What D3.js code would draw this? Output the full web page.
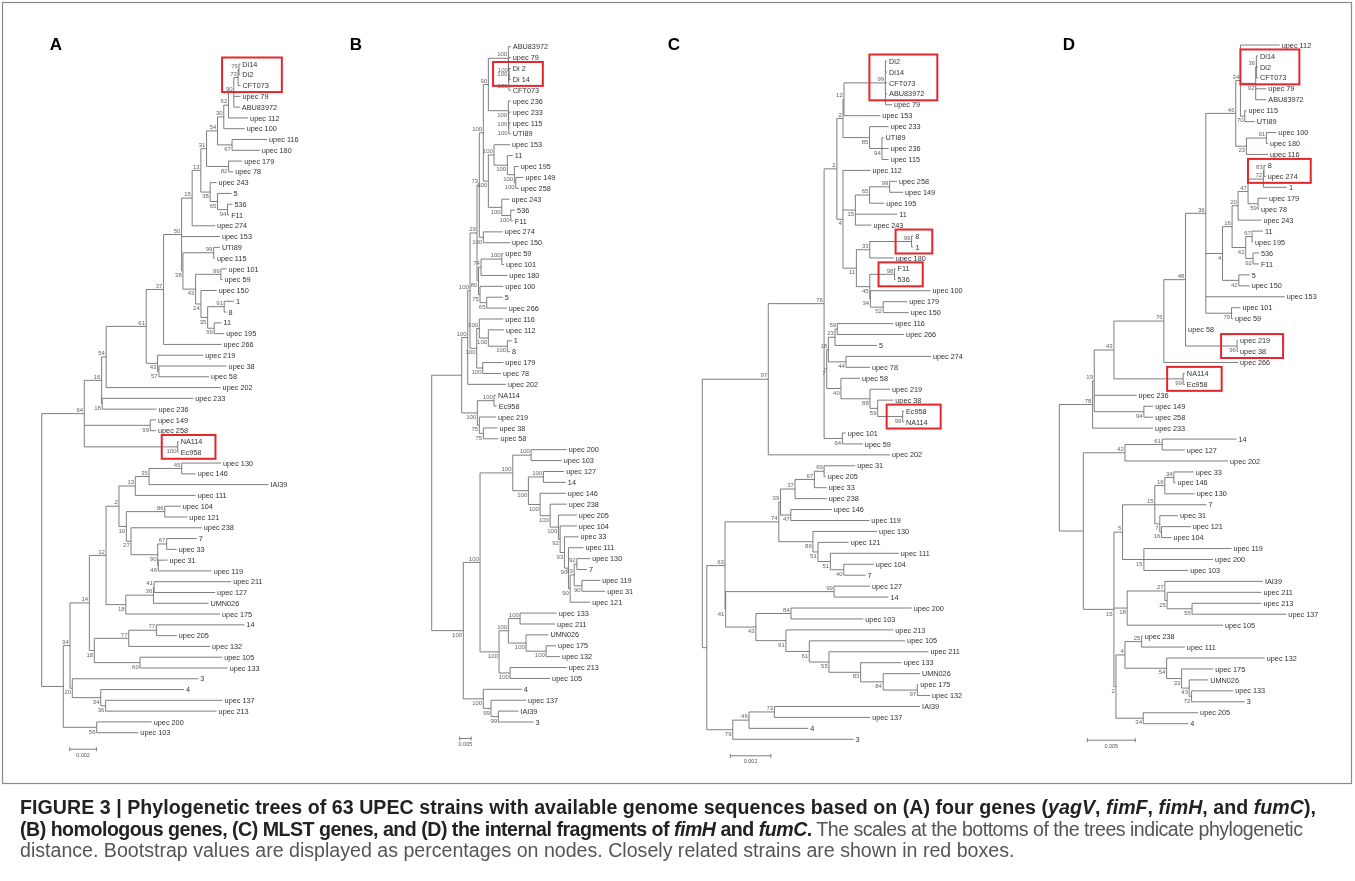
<!DOCTYPE html>
<html>
<head>
<meta charset="utf-8">
<script src="https://cdn.jsdelivr.net/npm/d3@7"></script>
<style>
  body { margin: 0; background: #fff; }
  svg text { font-family: Arial, "Liberation Sans", Helvetica, sans-serif; }
</style>
</head>
<body>
<div id="fig"></div>
<script>
// ---- data -------------------------------------------------------------
// Newick trees; branch lengths are in units of 1e-4
// substitutions/site, node labels are the bootstrap values.
var lenUnit = 1e-4;

var treeA = `
(
 (
  (
   (
    (
     (
      (
       (
        (
         (
          (
           (
            (
             (
              ((Di14:1.0,Di2:1.0)76:0.7,CFT073:1.8)73:3.2,
              upec_79:5.0,
              ABU83972:4.5
             )90:4.0,
             upec_112:14.7
            )62:3.5,
            upec_100:15.7
           )30:4.7,
           (upec_116:26.2,upec_180:20.7)67:10.9
          )54:8.2,
          (upec_179:10.2,upec_78:3.4)82:16.5
         )31:4.3,
         (upec_243:4.8,(5:10.5,(536:3.7,F11:1.2)94:7.5)65:5.5)38:7.0
        )13:6.5,
        upec_274:17.2
       )15:7.9,
       upec_153:28.7,
       ((UTI89:4.7,upec_115:1.0)99:23.0,((upec_101:4.3,upec_59:1.3)99:18.9,(upec_150:11.8,((1:7.3,8:1.8)91:12.4,(11:5.5,upec_195:7.5)59:4.9)35:5.0)24:4.0)43:9.5)38:1.0
      )50:13.5,
      upec_266:43.4
     )37:13.0,
     (upec_219:34.2,(upec_38:50.7,upec_58:37.5)57:1.0)43:8.5
    )61:30.0,
    upec_202:85.7
   )54:3.4,
   (upec_233:68.2,upec_236:40.7)18:0.4
  )16:13.0,
  (upec_149:4.3,upec_258:4.3)99:49.4,
  (NA114:0.7,Ec958:0.7)100:70.0
 )64:31.9,
 (
  (
   (
    (
     (
      (((upec_130:29.4,upec_146:10.5)45:24.5,IAI39:89.4)35:10.3,upec_111:45.2)13:12.2,
      ((upec_104:12.0,upec_121:16.9)86:28.8,(upec_238:53.0,((7:22.5,upec_33:7.5)67:6.7,(upec_31:7.0,upec_119:40.0)46:0.4)90:20.0)27:3.5)10:5.5
     )2:9.7,
     (((upec_211:57.7,upec_127:45.7)41:0.5,UMN026:41.2)36:20.7,upec_175:70.6)18:14.8
    )12:12.5,
    (((14:65.9,upec_205:15.3)77:20.7,upec_132:60.9)77:25.8,(upec_105:61.6,upec_133:65.7)60:34.2)18:3.7
   )14:14.5,
   (3:94.4,(4:62.4,(upec_137:87.6,upec_213:83.1)36:3.7)34:21.3)20:1.7
  )34:5.0,
  (upec_200:41.2,upec_103:31.2)56:25.0
 ):16.2
);`;

var treeB = `
(
 (
  (
   (
    (
     (
      (
       (
        (ABU83972:10.5,(upec_79:9.7,((Di_2:7.5,Di_14:7.5)100:1.3,CFT073:8.8)100:0.9)100:0.9)100:87.8,
        (upec_236:10.5,(upec_233:9.7,(upec_115:8.8,UTI89:8.8)100:0.9)100:0.9)100:87.8
       )90:22.0,
       (
        (upec_153:70.2,(11:23.7,(upec_195:19.3,(upec_149:33.4,upec_258:13.2)100:6.1)100:30.7)100:58.4)100:25.0,
        (upec_243:33.4,(536:18.9,F11:8.8)100:39.5)100:58.8
       )100:22.0
      )100:17.6,
      (upec_274:85.2,upec_150:117.2)100:17.6
     )73:10.1,
     (
      ((upec_59:7.0,upec_101:10.1)100:90.9,upec_180:115.5)74:11.0,
      (upec_100:102.3,(5:70.2,upec_266:87.8)65:29.4)75:6.6
     )80:6.6
    )29:30.7,
    (
     (upec_116:105.4,(upec_112:68.9,(1:19.3,8:11.9)100:83.4)100:39.5)100:11.4,
     (upec_179:90.4,upec_78:80.3)100:26.3
    )100:29.4
   )100:10.1,
   upec_202:168.1
  )100:26.3,
  (
   (NA114:8.8,Ec958:11.9)100:73.3,
   (upec_219:73.3,(upec_38:61.5,upec_58:65.9)75:17.6)75:8.8
  )100:68.5
 ):131.7,
 (
  (
   (
    (upec_200:156.7,upec_103:134.8)100:80.3,
    (
     (upec_127:90.9,14:98.3)100:65.9,
     (upec_146:112.8,(upec_238:73.3,(upec_205:80.8,(upec_104:73.3,(upec_33:61.5,(upec_111:65.9,(((upec_130:58.4,7:43.9)92:11.9,(upec_119:80.3,upec_31:102.3)90:33.8)93:17.6,upec_121:87.8)90:7.5)90:17.6)93:18.9)92:7.5)100:36.4)100:43.9)100:51.4
    )100:68.5
   )100:143.6,
   (
    ((upec_133:161.1,upec_211:153.7)100:51.4,(UMN026:97.9,(upec_175:43.9,upec_132:61.5)100:87.8)100:77.7)100:40.8,
    (upec_213:248.9,upec_105:175.6)100:48.3
   )100:83.4
  )100:73.3,
  (4:168.6,(upec_137:153.7,(IAI39:87.8,3:153.7)99:32.0)99:33.8)100:87.8
 )100:138.7
);`;

var treeC = `
(
 (
  (
   (
    (
     ((Di2:0.8,Di14:0.8,CFT073:0.8,ABU83972:0.8,upec_79:3.3)99:20.4,upec_153:17.9)12:0.5,
     (upec_233:9.4,(UTI89:0.8,upec_236:3.3,upec_115:3.3)94:6.1)85:13.1
    )2:3.0,
    (
     upec_112:13.5,
     (((upec_258:3.6,upec_149:6.6)99:9.9,upec_195:7.2)65:7.0,11:20.6,upec_243:7.9)15:6.1,
     (((8:0.8,1:0.8)99:20.6,upec_180:11.8)33:6.6,((F11:0.5,536:0.5)98:12.2,(upec_100:29.6,(upec_179:11.8,upec_150:12.6)52:6.3)34:0.3)45:6.6)11:6.6
    )4:3.0
   )2:6.3,
   (
    (((upec_116:27.6,upec_266:32.9)59:1.1,5:20.6)23:3.3,(upec_274:41.8,upec_78:11.8)44:8.7)18:0.8,
    (upec_58:9.4,(upec_219:9.9,(upec_38:7.7,(Ec958:0.6,NA114:0.6)99:12.3)59:3.8)88:14.3)40:7.0
   )7:1.3,
   (upec_101:1.7,upec_59:10.1)64:9.0
  )76:27.5,
  upec_202:60.0
 )97:32.5,
 (
  (
   (
    ((((upec_31:15.3,upec_205:0.8)69:4.8,upec_33:6.1)67:9.5,upec_238:15.6)37:7.2,(upec_146:20.2,upec_119:38.7)47:5.1)39:0.8,
    (upec_130:31.6,(upec_121:15.1,(upec_111:33.7,(upec_104:14.8,7:10.7)40:6.6)51:6.1)51:2.5)86:16.8
   )74:26.5,
   (
    (upec_127:17.7,14:26.8)99:53.4,
    ((upec_200:59.5,upec_103:35.6)84:17.3,(upec_213:52.9,(upec_105:47.2,(upec_211:49.0,(upec_133:20.2,(UMN026:18.1,(upec_175:0.5,upec_132:6.3)97:16.8)84:11.1)83:15.6)55:9.7)61:11.5)91:14.8)43:14.9
   )41:0.3
  )63:9.0,
  (((IAI39:71.8,upec_137:47.2)73:12.5,4:29.2)46:8.0,3:59.5)79:12.8
 ):2.2
);`;

var treeD = `
(
 (
  (
   (
    (
     (
      (
       (
        (
         upec_112:40.9,
         ((Di14:1.7,Di2:1.7,CFT073:1.7)36:0.7,upec_79:11.1,ABU83972:11.1)92:15.9,
         (upec_115:1.8,UTI89:10.4)70:4.5
        )34:4.9,
        ((upec_100:10.4,upec_180:1.7)91:20.8,upec_116:22.5)23:11.1
       )46:31.2,
       (
        (
         (
          (((8:1.8,upec_274:1.8)83:0.6,1:24.5)72:16.0,(upec_179:9.4,upec_78:1.0)59:10.4)47:10.4,
          upec_243:24.3
         )20:6.2,
         ((11:11.4,upec_195:1.0)67:6.6,(536:6.2,F11:6.2)92:7.6)42:14.2
        )16:10.0,
        (5:11.4,upec_150:11.4)42:17.0
       )4:17.4,
       upec_153:82.2,
       (upec_101:9.4,upec_59:1.7)79:26.7
      )36:21.1,
      upec_58:0.6,
      (upec_219:1.0,upec_38:1.0)96:53.7
     )48:22.6,
     upec_266:77.3
    )76:52.0,
    (NA114:1.8,Ec958:1.8)99:72.1
   )43:20.5,
   upec_236:44.1,
   (upec_149:9.7,upec_258:9.7)94:51.7
  )19:1.7,
  upec_233:63.0
 )78:34.7,
 (
  ((14:77.4,upec_127:23.6)61:38.8,upec_202:107.4)42:43.4,
  (
   (
    (((upec_33:20.8,upec_146:1.8)34:9.4,upec_130:31.2)16:10.4,7:53.8,(upec_31:19.0,(upec_121:30.5,upec_104:10.4)16:1.8)7:5.2)15:33.6,
    (upec_119:91.2,upec_200:72.1,upec_103:46.1)15:22.2
   )5:9.0,
   ((IAI39:102.2,(upec_211:98.2,(upec_213:72.2,upec_137:98.2)55:26.0)25:2.4)27:39.2,upec_105:99.8)18:13.8,
   (((upec_238:1.0,upec_111:45.0)25:17.4,(upec_132:102.2,(upec_175:32.9,(UMN026:19.8,(upec_133:43.3,3:55.4)72:2.5)43:7.9)33:15.6)54:43.4)4:9.4,(upec_205:57.2,4:46.8)34:28.4)2:2.1
  )15:31.9
 ):25.0
);`;

var panelLetters = ["A", "B", "C", "D"];
var scaleBarValues = [0.002, 0.005, 0.002, 0.005];

// strains framed in red, per tree
var boxesA = [["Di14", "Di2", "CFT073"], ["NA114", "Ec958"]];
var boxesB = [["Di 2", "Di 14"]];
var boxesC = [["Di2", "Di14", "CFT073", "ABU83972"], ["8", "1"], ["F11", "536"], ["Ec958", "NA114"]];
var boxesD = [["Di14", "Di2", "CFT073"], ["8", "upec 274"], ["upec 219", "upec 38"], ["NA114", "Ec958"]];

var captionLines = [
  [["FIGURE 3 | Phylogenetic trees of 63 UPEC strains with available genome sequences based on (A) four genes (", "b"],
   ["yagV", "bi"], [", ", "b"], ["fimF", "bi"], [", ", "b"], ["fimH", "bi"], [", and ", "b"], ["fumC", "bi"], ["),", "b"]],
  [["(B) homologous genes, (C) MLST genes, and (D) the internal fragments of ", "b"], ["fimH", "bi"], [" and ", "b"],
   ["fumC", "bi"], [".", "b"], [" The scales at the bottoms of the trees indicate phylogenetic", "n"]],
  [["distance. Bootstrap values are displayed as percentages on nodes. Closely related strains are shown in red boxes.", "n"]]
];
// justified width of the first two caption lines (last line is ragged)
var captionWidths = [1296, 1283, null];

// ---- layout -----------------------------------------------------------
var panels = [
  { tree: treeA, boxes: boxesA, rootX: 41.7, barPx: 26.7, top: 64, bottom: 732.7, letterX: 56 },
  { tree: treeB, boxes: boxesB, rootX: 431.7, barPx: 11.4, top: 46.7, bottom: 722, letterX: 356 },
  { tree: treeC, boxes: boxesC, rootX: 702.3, barPx: 40.6, top: 61, bottom: 739.3, letterX: 674 },
  { tree: treeD, boxes: boxesD, rootX: 1059.3, barPx: 48, top: 45, bottom: 723.7, letterX: 1069 }
];

function parseNewick(s) {
  s = s.replace(/\s+/g, "");
  var i = 0;
  function node() {
    var n = {};
    if (s[i] === "(") {
      i++;
      n.children = [node()];
      while (s[i] === ",") { i++; n.children.push(node()); }
      i++; // closing paren
    }
    var label = "";
    while (i < s.length && ",():;".indexOf(s[i]) < 0) label += s[i++];
    n.length = 0;
    if (s[i] === ":") {
      i++;
      var num = "";
      while (i < s.length && ",();".indexOf(s[i]) < 0) num += s[i++];
      n.length = +num;
    }
    if (n.children) n.support = label;
    else n.name = label.replace(/_/g, " ");
    return n;
  }
  return node();
}

var svg = d3.select("#fig").append("svg")
  .attr("width", 1355)
  .attr("height", 881);

// greyscale filter so the tiny labels are not drawn with coloured sub-pixel fringes
var gray = svg.append("defs").append("filter")
  .attr("id", "gray")
  .attr("filterUnits", "userSpaceOnUse")
  .attr("x", 0).attr("y", 0).attr("width", 1355).attr("height", 881)
  .attr("color-interpolation-filters", "sRGB");
gray.append("feColorMatrix").attr("type", "saturate").attr("values", 0);

// figure frame
svg.append("rect")
  .attr("x", 2.5).attr("y", 2.5)
  .attr("width", 1349).attr("height", 781)
  .attr("fill", "none")
  .attr("stroke", "#8a8a8a")
  .attr("stroke-width", 1.2);

panels.forEach(function(p, k) {
  var root = d3.hierarchy(parseNewick(p.tree));
  root.each(function(d) {
    d.dist = d.parent ? d.parent.dist + d.data.length * lenUnit : 0;
  });
  var leaves = root.leaves();

  var y = d3.scaleLinear().domain([0, leaves.length - 1]).range([p.top, p.bottom]);
  leaves.forEach(function(d, i) { d.py = y(i); });
  root.eachAfter(function(d) {
    if (d.children) d.py = (d.children[0].py + d.children[d.children.length - 1].py) / 2;
  });

  var x = d3.scaleLinear().domain([0, scaleBarValues[k]]).range([p.rootX, p.rootX + p.barPx]);

  var g = svg.append("g").attr("filter", "url(#gray)");

  // horizontal branches
  g.selectAll("path.h")
    .data(root.descendants().slice(1))
    .join("path")
    .attr("class", "h")
    .attr("d", function(d) { return "M" + x(d.parent.dist) + "," + d.py + "H" + x(d.dist); })
    .attr("fill", "none")
    .attr("stroke", "#6f6f6f")
    .attr("stroke-width", 0.9);

  // vertical connectors
  g.selectAll("path.v")
    .data(root.descendants().filter(function(d) { return d.children; }))
    .join("path")
    .attr("class", "v")
    .attr("d", function(d) {
      return "M" + x(d.dist) + "," + d.children[0].py + "V" + d.children[d.children.length - 1].py;
    })
    .attr("fill", "none")
    .attr("stroke", "#6f6f6f")
    .attr("stroke-width", 0.9);

  // strain names
  g.selectAll("text.leaf")
    .data(leaves)
    .join("text")
    .attr("class", "leaf")
    .attr("x", function(d) { return x(d.dist) + 2; })
    .attr("y", function(d) { return d.py; })
    .attr("dy", "0.36em")
    .style("font-size", "7.3px")
    .attr("fill", "#333")
    .text(function(d) { return d.data.name; })
    .each(function(d) { d.tw = this.getComputedTextLength(); });

  // bootstrap values
  g.selectAll("text.boot")
    .data(root.descendants().filter(function(d) { return d.children && d.data.support; }))
    .join("text")
    .attr("class", "boot")
    .attr("x", function(d) { return x(d.dist) - 1.2; })
    .attr("y", function(d) {
      var first = d.parent && d.parent.children[0] === d;
      return first ? d.py - 1.8 : d.py + 6.2;
    })
    .attr("text-anchor", "end")
    .style("font-size", "6px")
    .attr("fill", "#666")
    .text(function(d) { return d.data.support; });

  // scale bar
  var bx = p.rootX + 28, by = p.bottom + 16.5, bw = x(scaleBarValues[k]) - x(0);
  var sb = g.append("g").attr("stroke", "#6f6f6f").attr("stroke-width", 0.9);
  sb.append("line").attr("x1", bx).attr("x2", bx + bw).attr("y1", by).attr("y2", by);
  sb.append("line").attr("x1", bx).attr("x2", bx).attr("y1", by - 2).attr("y2", by + 2);
  sb.append("line").attr("x1", bx + bw).attr("x2", bx + bw).attr("y1", by - 2).attr("y2", by + 2);
  g.append("text")
    .attr("x", bx + bw / 2)
    .attr("y", by + 7.5)
    .attr("text-anchor", "middle")
    .style("font-size", "5.5px")
    .attr("fill", "#555")
    .text(d3.format(".3f")(scaleBarValues[k]));

  // panel letter
  g.append("text")
    .attr("x", p.letterX)
    .attr("y", 50)
    .attr("text-anchor", "middle")
    .style("font-size", "17px")
    .style("font-weight", "bold")
    .attr("fill", "#000")
    .text(panelLetters[k]);

  // red boxes around closely related strains
  var rb = svg.append("g");
  p.boxes.forEach(function(names) {
    var nodes = names.map(function(n) { return leaves.find(function(l) { return l.data.name === n; }); });
    var lca = nodes[0];
    nodes.slice(1).forEach(function(b) {
      var anc = b.ancestors();
      while (anc.indexOf(lca) < 0) lca = lca.parent;
    });
    var x0 = x(lca.dist) - 16;
    var x1 = d3.max(nodes, function(d) { return x(d.dist) + 2 + d.tw; }) + 13;
    var y0 = d3.min(nodes, function(d) { return d.py; }) - 6.5;
    var y1 = d3.max(nodes, function(d) { return d.py; }) + 6.5;
    rb.append("rect")
      .attr("x", x0).attr("y", y0)
      .attr("width", x1 - x0).attr("height", y1 - y0)
      .attr("fill", "none")
      .attr("stroke", "#e3262b")
      .attr("stroke-width", 2);
  });
});

// caption
var cap = svg.append("g").attr("filter", "url(#gray)");
captionLines.forEach(function(line, j) {
  var t = cap.append("text")
    .attr("x", 20)
    .attr("y", 814 + j * 21.5)
    .style("font-size", "19.6px");
  line.forEach(function(run) {
    t.append("tspan")
      .style("font-weight", run[1].indexOf("b") >= 0 ? "bold" : "normal")
      .style("font-style", run[1].indexOf("i") >= 0 ? "italic" : "normal")
      .attr("fill", run[1].indexOf("b") >= 0 ? "#222" : "#555")
      .text(run[0]);
  });
  if (captionWidths[j]) t.attr("textLength", captionWidths[j]).attr("lengthAdjust", "spacing");
});
</script>
</body>
</html>
